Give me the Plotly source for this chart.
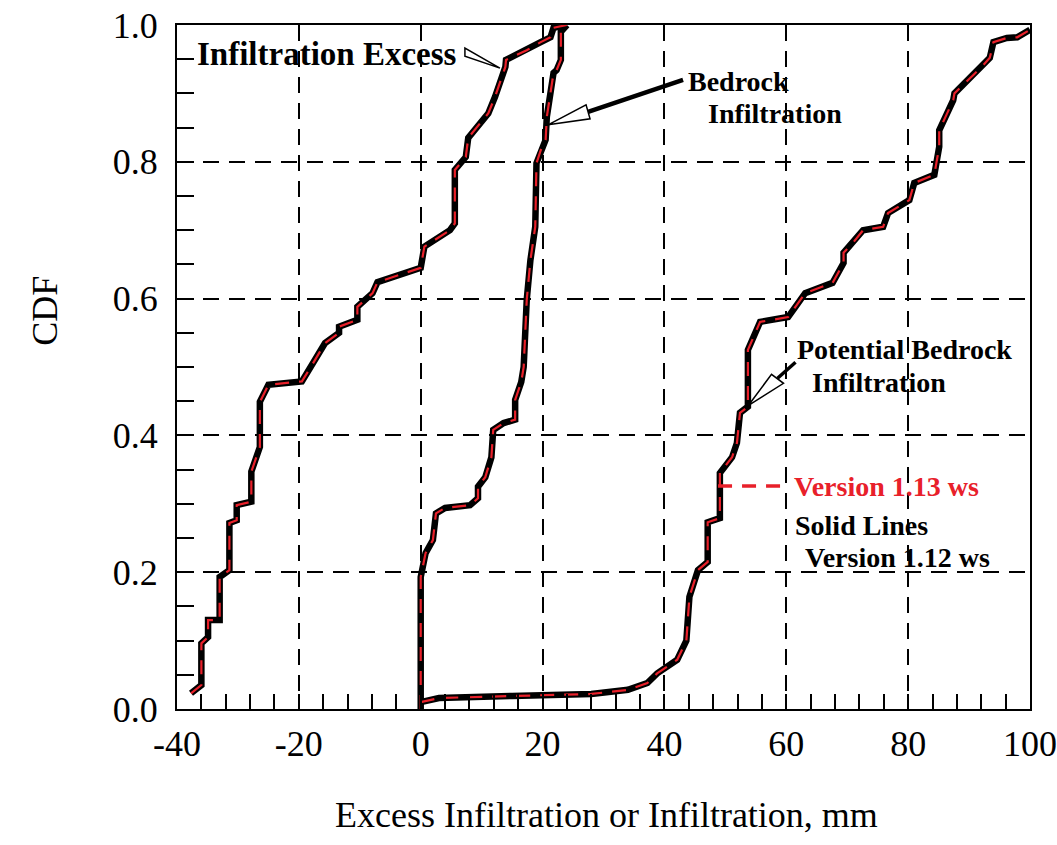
import plotly.graph_objects as go

# ---------------- data ----------------
# Infiltration Excess CDF
x_ie = [-37.7, -36.0, -36.0, -34.9, -34.9, -33.0, -33.0, -31.4, -31.4, -30.2, -30.2,
        -27.8, -27.8, -26.4, -26.4, -25.0, -19.5, -18.3, -15.7, -13.4, -13.4, -10.4,
        -10.4, -7.9, -7.1, 0.0, 0.6, 4.8, 5.6, 5.6, 7.4, 7.8, 11.1, 12.2, 13.9, 14.0,
        17.4, 19.7, 21.3, 21.8, 24.0]
y_ie = [0.023, 0.035, 0.096, 0.105, 0.13, 0.13, 0.193, 0.203, 0.272, 0.276, 0.298,
        0.303, 0.347, 0.383, 0.449, 0.474, 0.479, 0.496, 0.535, 0.55, 0.559, 0.569,
        0.588, 0.608, 0.624, 0.645, 0.676, 0.70, 0.71, 0.788, 0.807, 0.835, 0.871,
        0.895, 0.939, 0.949, 0.963, 0.975, 0.982, 0.996, 1.0]

# Bedrock Infiltration CDF
x_br = [0, 0, 0.8, 2.0, 2.5, 4.0, 8.1, 9.4, 9.4, 10.6, 11.6, 11.9, 13.6, 15.5, 15.5,
        16.5, 16.9, 17.4, 18.0, 18.8, 19.0, 19.7, 20.5, 20.7, 21.8, 22.3, 23.0, 23.0, 24.0]
y_br = [0, 0.193, 0.228, 0.247, 0.286, 0.294, 0.298, 0.308, 0.325, 0.339, 0.368, 0.408,
        0.418, 0.423, 0.452, 0.478, 0.5, 0.598, 0.656, 0.705, 0.798, 0.817, 0.832, 0.866,
        0.93, 0.934, 0.949, 0.99, 1.0]

# Potential Bedrock Infiltration CDF
x_pb = [0, 3, 15, 28, 34, 37.2, 38.8, 42.1, 43.6, 44.1, 45.5, 47.1, 47.1, 49.1, 49.1,
        51.1, 51.9, 52.4, 53.7, 53.7, 53.7, 55.7, 60.3, 61.5, 63.1, 67.6, 69.4, 69.4,
        70.9, 72.6, 75.9, 76.7, 80.2, 81.0, 84.3, 85.1, 85.1, 87.4, 87.6, 90.7, 92.1,
        93.4, 94.0, 96.2, 97.9, 100]
y_pb = [0.01, 0.016, 0.019, 0.022, 0.028, 0.038, 0.052, 0.072, 0.1, 0.164, 0.203, 0.215,
        0.273, 0.279, 0.345, 0.368, 0.389, 0.433, 0.442, 0.481, 0.525, 0.566, 0.573,
        0.588, 0.608, 0.623, 0.652, 0.667, 0.681, 0.7, 0.705, 0.725, 0.744, 0.769,
        0.781, 0.822, 0.846, 0.89, 0.9, 0.927, 0.939, 0.952, 0.975, 0.981, 0.982, 0.993]

series = [
    ("Infiltration Excess", x_ie, y_ie),
    ("Bedrock Infiltration", x_br, y_br),
    ("Potential Bedrock Infiltration", x_pb, y_pb),
]

x_ticks = [-40, -20, 0, 20, 40, 60, 80, 100]
y_ticks = [0.0, 0.2, 0.4, 0.6, 0.8, 1.0]
y_ticklabels = ["0.0", "0.2", "0.4", "0.6", "0.8", "1.0"]

FONT = "Liberation Serif"
RED = "#e8202a"

fig = go.Figure()
# Version 1.12 ws: solid black
for name, xs, ys in series:
    fig.add_trace(go.Scatter(x=xs, y=ys, mode="lines", name=name + " (1.12 ws)",
                             line=dict(color="black", width=6.5), showlegend=False))
# Version 1.13 ws: red dashed
for name, xs, ys in series:
    fig.add_trace(go.Scatter(x=xs, y=ys, mode="lines", name=name + " (1.13 ws)",
                             line=dict(color=RED, width=2.2, dash="14px,10px"),
                             showlegend=False))

axis_common = dict(
    showline=True, linecolor="black", linewidth=2, mirror=True, automargin=False,
    showgrid=True, gridcolor="black", gridwidth=1.6, griddash="16px,10px",
    zeroline=False, ticks="inside", ticklen=15, tickwidth=2, tickcolor="black",
    tickfont=dict(family=FONT, size=36, color="black"),
)

fig.update_xaxes(range=[-40, 100], tickvals=x_ticks, ticktext=[str(v) for v in x_ticks],
                 minor=dict(dtick=4, tick0=0, ticks="inside", ticklen=15, tickwidth=2,
                            tickcolor="black", showgrid=False),
                 ticklabelstandoff=2, **axis_common)
fig.update_yaxes(range=[0, 1], tickvals=y_ticks, ticktext=y_ticklabels,
                 minor=dict(dtick=0.05, tick0=0, ticks="inside", ticklen=17, tickwidth=2,
                            tickcolor="black", showgrid=False),
                 ticklabelstandoff=10, **axis_common)

ann = []
def txt(x, y, s, size=28, color="black", xanchor="left", xref="x", yref="y", angle=0):
    ann.append(dict(x=x, y=y, xref=xref, yref=yref, text=s, showarrow=False,
                    xanchor=xanchor, yanchor="middle", textangle=angle,
                    font=dict(family=FONT, size=size, color=color)))

txt(-37.0, 0.958, "<b>Infiltration Excess</b>", size=33)
txt(43.6, 0.917, "<b>Bedrock</b>", size=28)
txt(46.8, 0.870, "<b>Infiltration</b>", size=28)
txt(61.5, 0.525, "<b>Potential Bedrock</b>", size=28)
txt(63.9, 0.477, "<b>Infiltration</b>", size=28)
txt(60.9, 0.326, "<b>Version 1.13 ws</b>", size=28, color=RED)
txt(61.1, 0.269, "<b>Solid Lines</b>", size=28)
txt(62.7, 0.222, "<b>Version 1.12 ws</b>", size=28)
# axis titles
txt(-0.155, 0.582, "CDF", size=36, xanchor="center", xref="paper", yref="paper", angle=-90)
txt(0.504, -0.155, "Excess Infiltration or Infiltration, mm", size=36, xanchor="center",
    xref="paper", yref="paper")

shapes = []
def pix_path(xa, ya, path, fill="white", width=1.5):
    shapes.append(dict(type="path", xref="x", yref="y", xsizemode="pixel", ysizemode="pixel",
                       xanchor=xa, yanchor=ya, path=path, fillcolor=fill,
                       line=dict(color="black", width=width), layer="above"))

# Infiltration Excess pointer (narrow hollow wedge)
pix_path(13.0, 0.937, "M0,0 L-35,20 L-35,12 Z")
# Bedrock Infiltration pointer: thick shaft + hollow head
pix_path(20.9, 0.854, "M40,13 L135,45", fill=None, width=4.5)
pix_path(20.9, 0.854, "M0,0 L38,20 L42,6 Z")
# Potential Bedrock Infiltration pointer
pix_path(53.8, 0.444, "M29,27 L47,43", fill=None, width=3.5)
pix_path(53.8, 0.444, "M0,0 L23,31 L35,22 Z")

# legend sample for Version 1.13 ws
shapes.append(dict(type="line", xref="x", yref="y", x0=48.8, x1=60.3, y0=0.326, y1=0.326,
                   line=dict(color=RED, width=3.5, dash="14px,10px"), layer="above"))

fig.update_layout(
    width=1057, height=845,
    margin=dict(l=177, r=27, t=25, b=136),
    paper_bgcolor="white", plot_bgcolor="white",
    annotations=ann, shapes=shapes, showlegend=False,
)

# remove the default 8px page margin so the figure fills the window exactly
fig.write_html("out.html", config={"displayModeBar": False},
               post_script="document.body.style.margin='0';document.body.style.overflow='hidden';")
